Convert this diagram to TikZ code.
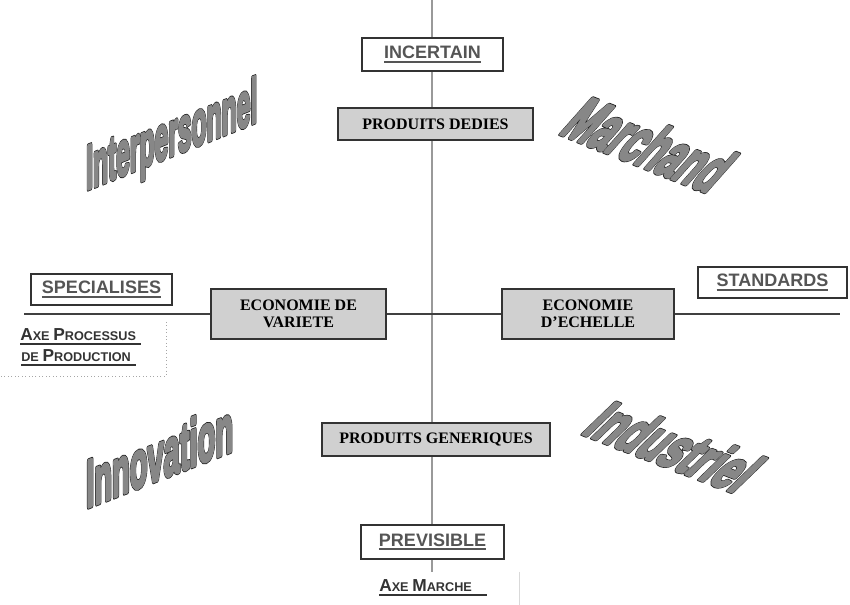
\documentclass[tikz,border=0pt]{standalone}
\usepackage{fontspec}
\setmainfont{Liberation Serif}
\setsansfont{Liberation Sans}

\definecolor{boxfill}{HTML}{D0D0D0}
\definecolor{boxline}{HTML}{333333}
\definecolor{poletext}{HTML}{555555}
\definecolor{artfill}{HTML}{878787}

% underlined label, small caps by hand, outlined letters
\newcommand\ulbar[1]{\setbox0\hbox{#1}\rlap{\copy0}\rule[-2.8pt]{\wd0}{1.3pt}}
\newcommand\sca[2]{{\fontsize{13}{14}\selectfont#1}{\fontsize{9.5}{10}\selectfont#2}}
\newcommand\outl[1]{\rlap{\special{pdf:literal direct 0.12 0.12 0.12 RG 3 w 1 j 2 Tr}#1}%
  \special{pdf:literal direct 0.53 0.53 0.53 RG 2 w 1 j 2 Tr}#1\special{pdf:literal direct 0 Tr}}

\tikzset{
  pole/.style={draw=boxline, line width=1.1pt, fill=white, inner sep=0pt,
    font=\sffamily\bfseries\fontsize{13.5}{14}\selectfont, text=poletext},
  regime/.style={draw=boxline, line width=1.1pt, fill=boxfill, inner sep=0pt,
    align=center, font=\bfseries\fontsize{12}{13}\selectfont},
  axe/.style={inner sep=0pt, anchor=base west, text=boxline, font=\sffamily\bfseries},
  art/.style={transform shape, inner sep=0pt, anchor=base west, text=artfill,
    font=\sffamily\bfseries\fontsize{40}{40}\selectfont},
}

\begin{document}
\begin{tikzpicture}[x=0.75pt,y=-0.75pt]
    \useasboundingbox (0,0) rectangle (850,605);
%
    \coordinate (vtop) at (432,0);
    \coordinate (vbot) at (432,572);
    \coordinate (hleft) at (24,314);
    \coordinate (hright) at (840,314);
    \draw[color=black!40, line width=1.5pt] (vtop) -- (vbot);
    \draw[color=black!75, line width=2.2pt] (hleft) -- (hright);
    \draw[color=black!15, line width=0.6pt] (519,572) -- (519,605);
    \draw[color=black!35, dotted, line width=0.6pt] (166,322) -- (166,376) -- (0,376);
%
    \node[pole, minimum width=105.75pt, minimum height=24.75pt] (incertain) at (432.5,54.5) {\ulbar{INCERTAIN}};
    \node[pole, minimum width=107.25pt, minimum height=25.5pt] (previsible) at (432.5,542) {\ulbar{PREVISIBLE}};
    \node[pole, minimum width=105.75pt, minimum height=23.25pt] (specialises) at (101.5,289.5) {\ulbar{SPECIALISES}};
    \node[pole, minimum width=111.75pt, minimum height=23.25pt] (standards) at (772.5,282.5) {\ulbar{STANDARDS}};
%
    \node[regime, minimum width=146.25pt, minimum height=24pt] (dedies) at (435.5,124) {PRODUITS DEDIES};
    \node[regime, minimum width=171pt, minimum height=24.75pt] (generiques) at (436,439.5) {PRODUITS GENERIQUES};
    \node[regime, minimum width=131.25pt, minimum height=37.5pt] (variete) at (298.5,314) {ECONOMIE DE\\VARIETE};
    \node[regime, minimum width=129pt, minimum height=37.5pt] (echelle) at (588,314) {ECONOMIE\\D'ECHELLE};
%
    \node[axe] (axeprocessus) at (20,341) {\ulbar{\sca{A}{XE} \sca{P}{ROCESSUS}\hspace{4pt}}};
    \node[axe] (axeproduction) at (21,362) {\ulbar{\sca{}{DE} \sca{P}{RODUCTION}\hspace{4pt}}};
    \node[axe] (axemarche) at (379,592) {\ulbar{\sca{A}{XE} \sca{M}{ARCHE}\hspace{11pt}}};
%
    \begin{scope}[shift={(86,190)}]
      \node[art, cm={0.462,0.185,0,1.18,(0,0)}] (interpersonnel) {\outl{Interpersonnel}};
    \end{scope}
    \begin{scope}[shift={(86,508)}]
      \node[art, cm={0.545,0.213,0,1.26,(0,0)}] (innovation) {\outl{Innovation}};
    \end{scope}
    \begin{scope}[shift={(558,133)}]
      \node[art, cm={0.595,-0.238,0.86,0.97,(0,0)}] (marchand) {\outl{Marchand}};
    \end{scope}
    \begin{scope}[shift={(580,433)}]
      \node[art, cm={0.645,-0.25,0.89,0.86,(0,0)}] (industriel) {\outl{Industriel}};
    \end{scope}
\end{tikzpicture}
\end{document}
